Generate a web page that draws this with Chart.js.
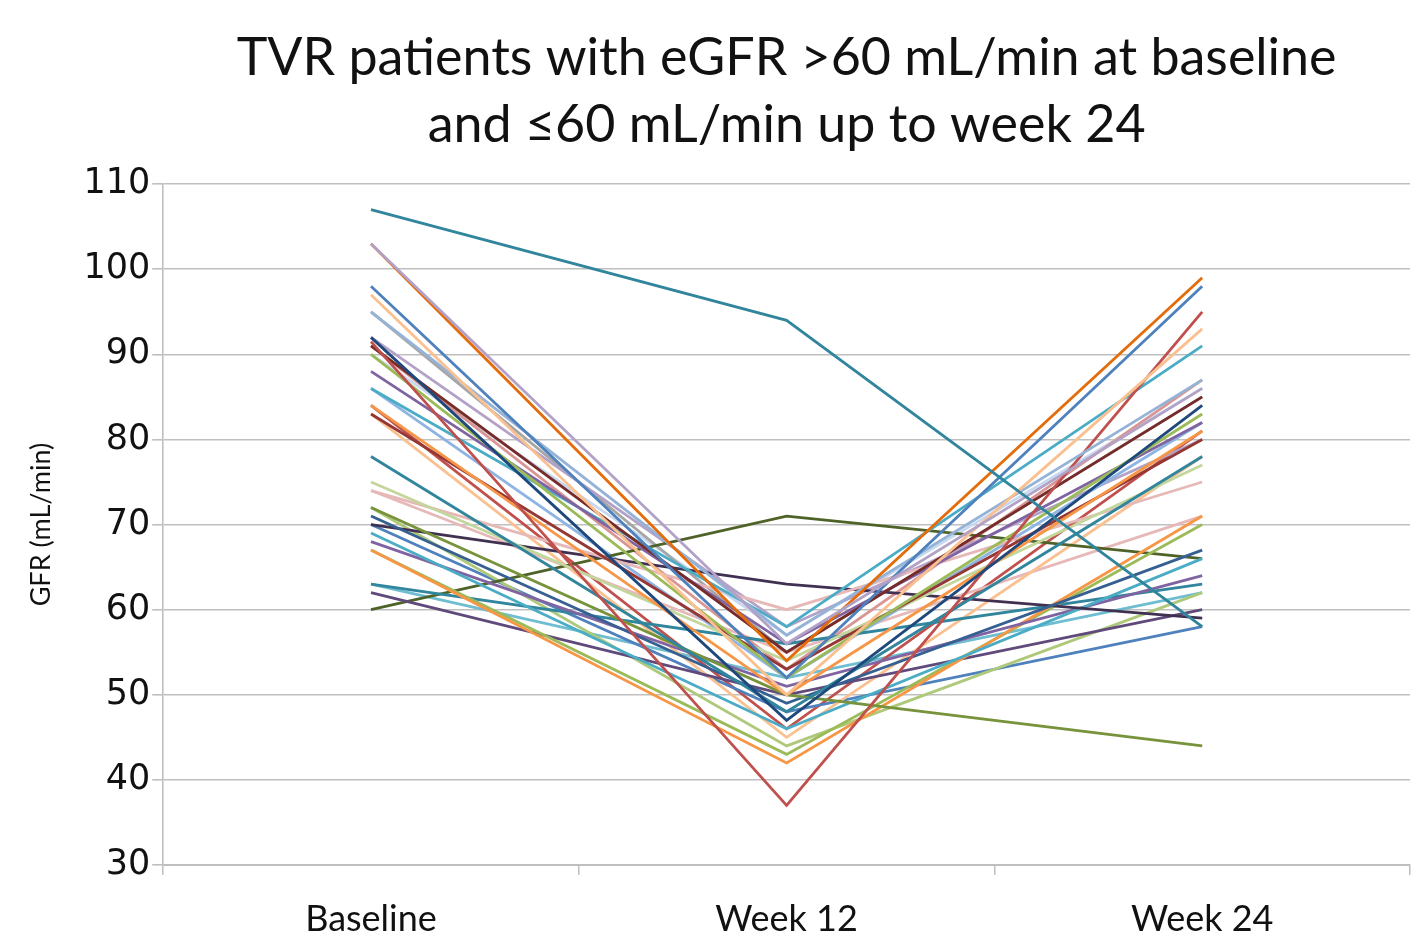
<!DOCTYPE html>
<html>
<head>
<meta charset="utf-8">
<script src="https://cdn.jsdelivr.net/npm/chart.js@4.4.1/dist/chart.umd.min.js"></script>
<style>
  html, body { margin: 0; padding: 0; background: #fff; }
  #wrap { width: 1412px; height: 937px; }
</style>
</head>
<body>
<div id="wrap"><canvas id="gfrChart" width="1412" height="937"></canvas></div>
<script>
// Zeitpunkte
const categories = ['Baseline', 'Week 12', 'Week 24'];

// eGFR je Patient (mL/min), gleiche Reihenfolge in allen drei Listen
const baselineValues = [107, 103, 103, 98, 97, 95, 92, 91.5, 91, 90, 88, 86, 84, 83, 78, 75, 74, 72, 71, 70,
  69, 68, 67, 67, 63, 62, 60, 86, 92, 83, 91, 72, 74, 70, 95, 84, 90, 63];
const week12Values = [94, 56, 54, 52, 50, 57, 47, 37, 55, 52, 56, 58, 50, 53, 48, 54, 60, 50, 49, 63,
  46, 51, 42, 43, 56, 50, 71, 52, 58, 45, 53, 44, 55, 48, 55, 46, 57, 52];
const week24Values = [58, 86, 99, 98, 93, 87, 84, 95, 85, 83, 82, 91, 81, 80, 78, 77, 75, 44, 67, 59,
  66, 64, 71, 70, 63, 60, 66, 82, 80, 78, 87, 62, 71, 58, 85, 81, 86, 62];

const seriesColors = ['#31859C', '#B3A2C7', '#E46C0A', '#4F81BD', '#FAC090', '#95B3D7', '#1F497D', '#C0504D',
  '#772C2A', '#9BBB59', '#8064A2', '#4BACC6', '#F79646', '#953735', '#31859C', '#C3D69B', '#E6B9B8', '#77933C',
  '#376092', '#403152', '#4BACC6', '#8064A2', '#F79646', '#9BBB59', '#31859C', '#604A7B', '#4F6228', '#8EB4E3',
  '#B3A2C7', '#FAC090', '#D99694', '#AFC97A', '#E6B9B8', '#4F81BD', '#A6A6A6', '#C0504D', '#C6D9F1', '#6FBDD1'];

const datasets = baselineValues.map((b, i) => ({
  label: 'Patient ' + (i + 1),
  data: [b, week12Values[i], week24Values[i]],
  borderColor: seriesColors[i],
  backgroundColor: seriesColors[i],
  borderWidth: 2.8,
  pointRadius: 0,
  tension: 0
}));

const fontFamily = 'Lato, "Open Sans", sans-serif';
const gridColor = '#BFBFBF';

new Chart(document.getElementById('gfrChart'), {
  type: 'line',
  data: { labels: categories, datasets: datasets },
  options: {
    responsive: false,
    animation: false,
    layout: { padding: { left: 25, right: 2, top: 25, bottom: -26 } },
    plugins: {
      legend: { display: false },
      tooltip: { enabled: false },
      title: {
        display: true,
        fullSize: false,
        text: ['TVR patients with eGFR >60 mL/min at baseline', 'and \u226460 mL/min up to week 24'],
        color: '#111',
        font: { family: fontFamily, size: 52, weight: 'normal', lineHeight: 1.29 },
        padding: { top: 0, bottom: 25 }
      }
    },
    scales: {
      x: {
        offset: true,
        grid: { offset: true, drawOnChartArea: false, drawTicks: true, tickLength: 10, color: gridColor, lineWidth: 1.5 },
        border: { color: gridColor, width: 2 },
        ticks: { color: '#111', font: { family: fontFamily, size: 36, lineHeight: 1.0 }, padding: 26 }
      },
      y: {
        min: 30,
        max: 110,
        ticks: { stepSize: 10, color: '#111', font: { family: '"DejaVu Sans", sans-serif', size: 35 }, padding: 2 },
        grid: { color: gridColor, lineWidth: 1.6, tickLength: 11 },
        border: { color: gridColor, width: 1.6 },
        title: {
          display: true,
          text: 'GFR (mL/min)',
          color: '#111',
          font: { family: fontFamily, size: 27 },
          padding: { top: 0, bottom: 24 }
        }
      }
    }
  }
});
</script>
</body>
</html>
